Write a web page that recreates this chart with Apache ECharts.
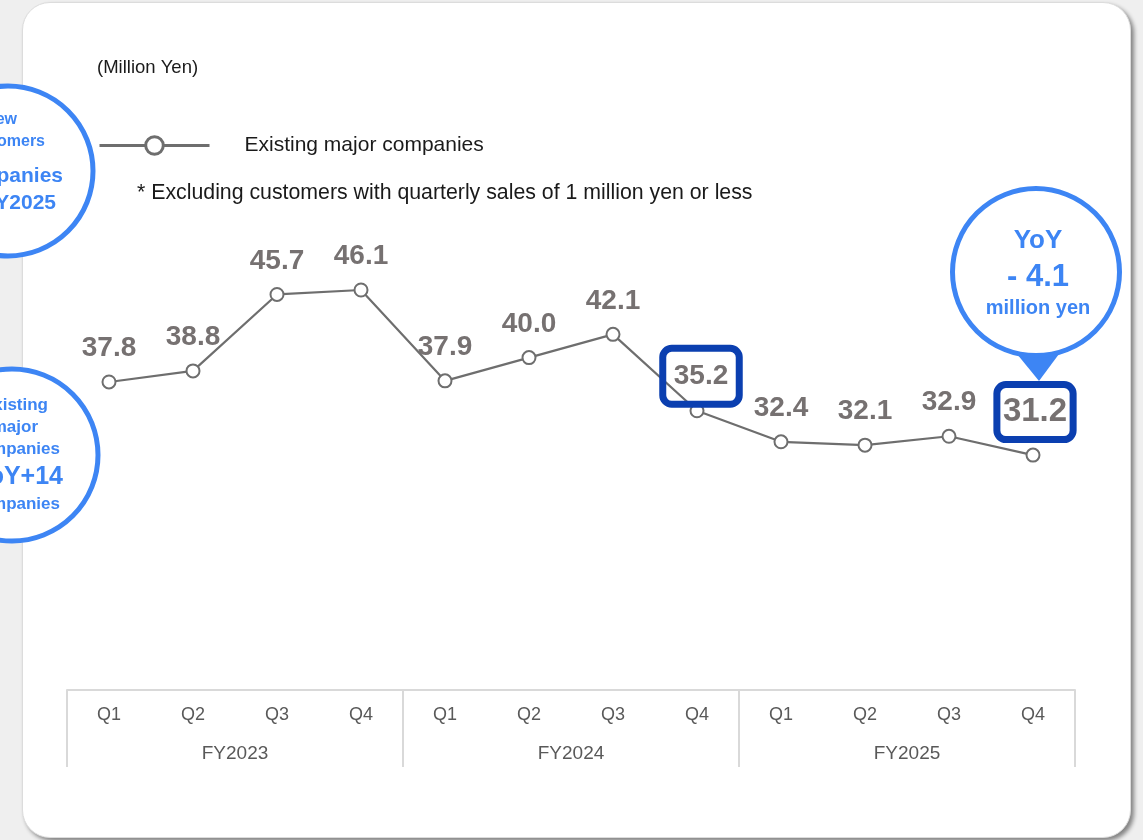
<!DOCTYPE html>
<html>
<head>
<meta charset="utf-8">
<script src="https://cdn.jsdelivr.net/npm/echarts@6/dist/echarts.min.js"></script>
<style>
  html, body { margin: 0; padding: 0; background: #efefef; }
  #card {
    position: absolute; left: 22px; top: 2px; width: 1107px; height: 834px;
    background: #fff; border: 1px solid #dcdcdc; border-radius: 28px;
    box-shadow: 3px 3px 4px rgba(0, 0, 0, 0.45);
  }
  #main { position: absolute; left: 0; top: 0; width: 1143px; height: 840px; }
</style>
</head>
<body>
<div id="card"></div>
<div id="main"></div>
<script>
// 数据
const quarters = ['Q1', 'Q2', 'Q3', 'Q4', 'Q1', 'Q2', 'Q3', 'Q4', 'Q1', 'Q2', 'Q3', 'Q4']
const years = ['FY2023', 'FY2024', 'FY2025']
const existingMajor = [37.8, 38.8, 45.7, 46.1, 37.9, 40.0, 42.1, 35.2, 32.4, 32.1, 32.9, 31.2]

const FONT = '"Liberation Sans", Arial, sans-serif'
const BLUE = '#3d85f4'
const DARK_BLUE = '#0b3fb0'
const GREY = '#6e6e6e'

// 强调框
const boxed = {
  7: { fontSize: 28, padding: [14, 11, 14, 11], offset: [4, 0], distance: -1 },
  11: { fontSize: 33, padding: [11, 6, 11, 6], offset: [2, 0], distance: 8 }
}

const seriesData = existingMajor.map((v, i) => {
  const b = boxed[i]
  if (!b) return v
  return {
    value: v,
    label: {
      fontSize: b.fontSize,
      padding: b.padding,
      offset: b.offset,
      distance: b.distance,
      borderColor: DARK_BLUE,
      borderWidth: 7,
      borderRadius: 9
    }
  }
})

const chart = echarts.init(document.getElementById('main'))

const option = {
  animation: false,
  textStyle: { fontFamily: FONT },
  grid: { left: 67, right: 68, top: 136, bottom: 150 },
  legend: {
    left: 93,
    top: 130,
    itemWidth: 110,
    itemHeight: 22,
    textStyle: { fontSize: 21, color: '#1a1a1a', fontFamily: FONT, padding: [0, 0, 0, 30] },
    itemStyle: { borderWidth: 3 },
    lineStyle: { width: 3 },
    data: ['Existing major companies']
  },
  xAxis: [
    {
      type: 'category',
      data: quarters,
      position: 'bottom',
      axisLine: { lineStyle: { color: '#d9d9d9', width: 2 } },
      axisTick: { show: false },
      axisLabel: { margin: 16, fontSize: 18, color: '#595959', fontFamily: FONT }
    },
    {
      type: 'category',
      data: years,
      position: 'bottom',
      axisLine: { show: false },
      axisTick: { show: true, length: 77, lineStyle: { color: '#d9d9d9', width: 2 } },
      axisLabel: { margin: 54, fontSize: 19, color: '#595959', fontFamily: FONT }
    }
  ],
  yAxis: { type: 'value', min: 10, max: 60, show: false },
  series: [{
    name: 'Existing major companies',
    type: 'line',
    xAxisIndex: 0,
    data: seriesData,
    symbol: 'circle',
    symbolSize: 13,
    lineStyle: { color: GREY, width: 2.2 },
    itemStyle: { color: '#fff', borderColor: GREY, borderWidth: 2 },
    label: {
      show: true,
      position: 'top',
      distance: 12,
      fontSize: 28,
      fontWeight: 'bold',
      color: '#767171',
      fontFamily: FONT,
      formatter: p => p.value.toFixed(1)
    }
  }]
}

chart.setOption(option)

// 注释：左侧被裁切的圆 + YoY 气泡
const last = existingMajor.length - 1
const pt = chart.convertToPixel({ seriesIndex: 0 }, [last, existingMajor[last]])
const cx = pt[0] + 3
const cy = pt[1] - 183

function blueText(x, y, text, size, align) {
  return {
    type: 'text', x, y, z: 100,
    style: { text, fill: BLUE, font: `bold ${size}px ${FONT}`, align: align || 'right', verticalAlign: 'middle' }
  }
}

chart.setOption({
  graphic: [
    { type: 'circle', z: 90, shape: { cx: 8, cy: 171, r: 85 }, style: { fill: '#fff', stroke: BLUE, lineWidth: 5 } },
    blueText(17, 120, 'New', 16),
    blueText(45, 142, 'customers', 16),
    blueText(63, 176, 'companies', 21),
    blueText(56, 203, 'in FY2025', 21),

    { type: 'circle', z: 90, shape: { cx: 12, cy: 455, r: 86 }, style: { fill: '#fff', stroke: BLUE, lineWidth: 5 } },
    blueText(48, 405, 'Existing', 17),
    blueText(38, 427, 'major', 17),
    blueText(60, 449, 'companies', 17),
    blueText(63, 477, 'YoY+14', 25),
    blueText(60, 504, 'companies', 17),

    { type: 'polygon', z: 90, shape: { points: [[cx - 19, cy + 82], [cx + 23, cy + 82], [cx + 3, cy + 109]] }, style: { fill: BLUE } },
    { type: 'circle', z: 91, shape: { cx: cx, cy: cy, r: 83.5 }, style: { fill: '#fff', stroke: BLUE, lineWidth: 5 } },
    blueText(cx + 2, cy - 31, 'YoY', 26, 'center'),
    blueText(cx + 2, cy + 5, '- 4.1', 31, 'center'),
    blueText(cx + 2, cy + 36, 'million yen', 20, 'center'),

    {
      type: 'text', x: 97, y: 68, z: 100,
      style: { text: '(Million Yen)', fill: '#1a1a1a', font: `18.5px ${FONT}`, verticalAlign: 'middle' }
    },
    {
      type: 'text', x: 137, y: 193, z: 100,
      style: { text: '* Excluding customers with quarterly sales of 1 million yen or less', fill: '#1a1a1a', font: `21.3px ${FONT}`, verticalAlign: 'middle' }
    }
  ]
})
</script>
</body>
</html>
